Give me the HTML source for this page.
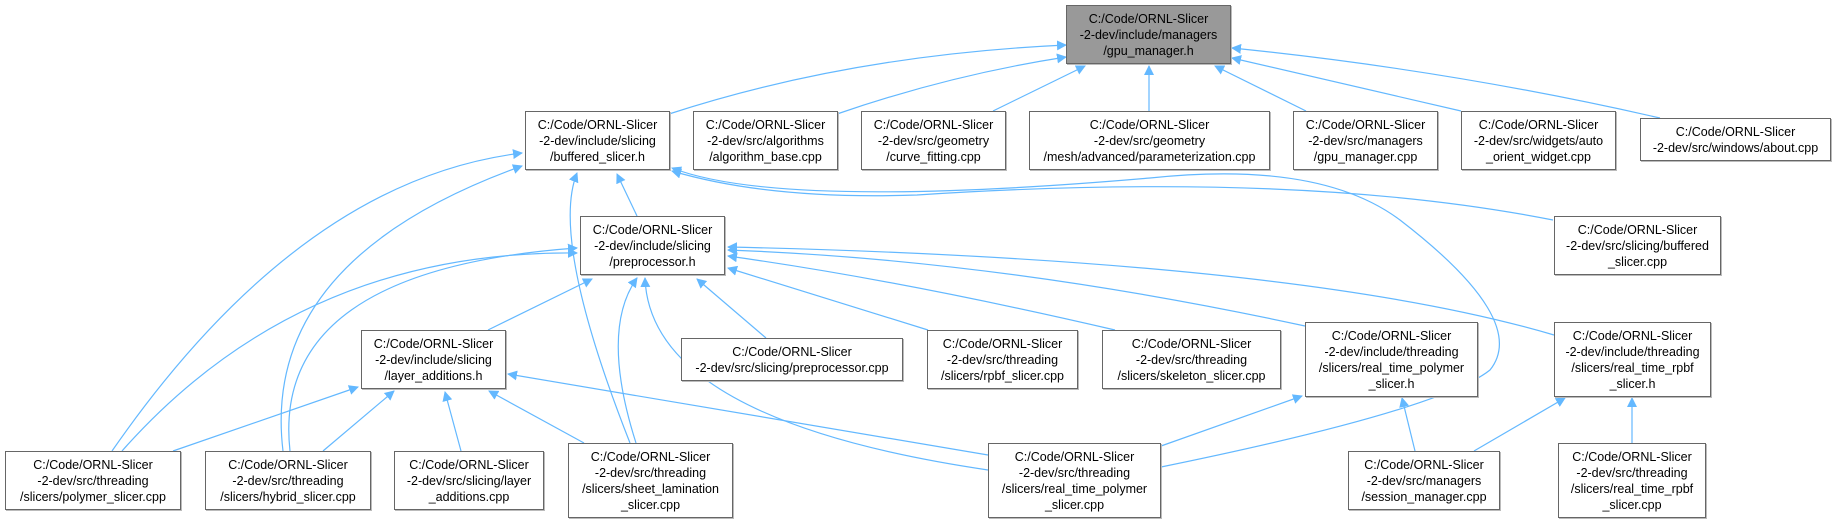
<!DOCTYPE html>
<html><head><meta charset="utf-8"><style>
body{margin:0;background:#fff;width:1837px;height:528px;overflow:hidden;position:relative;font-family:"Liberation Sans",sans-serif}
.n{position:absolute;box-sizing:border-box;border:1px solid #666;background:#fff;font-size:12.5px;line-height:16px;text-align:center;color:#000;display:flex;flex-direction:column;justify-content:center;box-shadow:1px 1px 0 #bbb}
svg{position:absolute;left:0;top:0}
</style></head><body>
<svg width="1837" height="528" viewBox="0 0 1837 528">
<defs><marker id="a" viewBox="0 0 10 10" refX="9" refY="5" markerWidth="10" markerHeight="10" markerUnits="userSpaceOnUse" orient="auto"><path d="M0,0 L10,5 L0,10 z" fill="#63b8ff"/></marker></defs>
<g fill="none" stroke="#63b8ff" stroke-width="1.2" marker-end="url(#a)">
<path d="M669,114 Q850,55 1066,45"/>
<path d="M837,114 Q950,75 1066,57"/>
<path d="M993,111 L1085,66"/>
<path d="M1149,111 L1149,66"/>
<path d="M1306,111 L1215,66"/>
<path d="M1461,111 L1232,58"/>
<path d="M1660,118 Q1450,70 1232,48"/>
<path d="M112,451 Q300,180 522,153"/>
<path d="M283,451 Q260,260 522,166"/>
<path d="M630,443 Q550,240 577,173"/>
<path d="M637,216 L617,174"/>
<path d="M1553,220 Q1300,170 917,195 Q770,200 672,171"/>
<path d="M1161,467 Q1440,410 1490,370 Q1530,320 1400,220 Q1320,160 1150,178 Q780,210 672,168"/>
<path d="M488,330 L592,279"/>
<path d="M122,451 Q300,250 577,253"/>
<path d="M290,451 Q270,270 577,248"/>
<path d="M636,443 Q600,330 637,278"/>
<path d="M988,470 Q650,420 645,278"/>
<path d="M766,338 L697,279"/>
<path d="M928,330 L728,268"/>
<path d="M1115,330 Q900,280 728,256"/>
<path d="M1305,326 Q1000,260 728,250"/>
<path d="M1554,335 Q1300,260 728,247"/>
<path d="M173,451 L358,387"/>
<path d="M323,451 L394,391"/>
<path d="M461,451 L445,392"/>
<path d="M584,443 L489,391"/>
<path d="M988,455 L508,374"/>
<path d="M1161,446 L1302,396"/>
<path d="M1415,451 L1402,398"/>
<path d="M1474,451 L1565,398"/>
<path d="M1632,443 L1632,398"/>
</g></svg>
<div class="n" style="left:1066px;top:5px;width:165px;height:59px;background:#999">C:/Code/ORNL-Slicer<br>-2-dev/include/managers<br>/gpu_manager.h</div>
<div class="n" style="left:525px;top:111px;width:145px;height:59px">C:/Code/ORNL-Slicer<br>-2-dev/include/slicing<br>/buffered_slicer.h</div>
<div class="n" style="left:693px;top:111px;width:145px;height:59px">C:/Code/ORNL-Slicer<br>-2-dev/src/algorithms<br>/algorithm_base.cpp</div>
<div class="n" style="left:861px;top:111px;width:145px;height:59px">C:/Code/ORNL-Slicer<br>-2-dev/src/geometry<br>/curve_fitting.cpp</div>
<div class="n" style="left:1029px;top:111px;width:241px;height:59px">C:/Code/ORNL-Slicer<br>-2-dev/src/geometry<br>/mesh/advanced/parameterization.cpp</div>
<div class="n" style="left:1293px;top:111px;width:145px;height:59px">C:/Code/ORNL-Slicer<br>-2-dev/src/managers<br>/gpu_manager.cpp</div>
<div class="n" style="left:1461px;top:111px;width:155px;height:59px">C:/Code/ORNL-Slicer<br>-2-dev/src/widgets/auto<br>_orient_widget.cpp</div>
<div class="n" style="left:1640px;top:118px;width:191px;height:43px">C:/Code/ORNL-Slicer<br>-2-dev/src/windows/about.cpp</div>
<div class="n" style="left:580px;top:216px;width:145px;height:59px">C:/Code/ORNL-Slicer<br>-2-dev/include/slicing<br>/preprocessor.h</div>
<div class="n" style="left:1554px;top:216px;width:167px;height:59px">C:/Code/ORNL-Slicer<br>-2-dev/src/slicing/buffered<br>_slicer.cpp</div>
<div class="n" style="left:361px;top:330px;width:145px;height:59px">C:/Code/ORNL-Slicer<br>-2-dev/include/slicing<br>/layer_additions.h</div>
<div class="n" style="left:681px;top:338px;width:222px;height:43px">C:/Code/ORNL-Slicer<br>-2-dev/src/slicing/preprocessor.cpp</div>
<div class="n" style="left:927px;top:330px;width:151px;height:59px">C:/Code/ORNL-Slicer<br>-2-dev/src/threading<br>/slicers/rpbf_slicer.cpp</div>
<div class="n" style="left:1102px;top:330px;width:179px;height:59px">C:/Code/ORNL-Slicer<br>-2-dev/src/threading<br>/slicers/skeleton_slicer.cpp</div>
<div class="n" style="left:1305px;top:322px;width:173px;height:75px">C:/Code/ORNL-Slicer<br>-2-dev/include/threading<br>/slicers/real_time_polymer<br>_slicer.h</div>
<div class="n" style="left:1554px;top:322px;width:157px;height:75px">C:/Code/ORNL-Slicer<br>-2-dev/include/threading<br>/slicers/real_time_rpbf<br>_slicer.h</div>
<div class="n" style="left:5px;top:451px;width:176px;height:59px">C:/Code/ORNL-Slicer<br>-2-dev/src/threading<br>/slicers/polymer_slicer.cpp</div>
<div class="n" style="left:205px;top:451px;width:166px;height:59px">C:/Code/ORNL-Slicer<br>-2-dev/src/threading<br>/slicers/hybrid_slicer.cpp</div>
<div class="n" style="left:394px;top:451px;width:150px;height:59px">C:/Code/ORNL-Slicer<br>-2-dev/src/slicing/layer<br>_additions.cpp</div>
<div class="n" style="left:568px;top:443px;width:165px;height:75px">C:/Code/ORNL-Slicer<br>-2-dev/src/threading<br>/slicers/sheet_lamination<br>_slicer.cpp</div>
<div class="n" style="left:988px;top:443px;width:173px;height:75px">C:/Code/ORNL-Slicer<br>-2-dev/src/threading<br>/slicers/real_time_polymer<br>_slicer.cpp</div>
<div class="n" style="left:1348px;top:451px;width:152px;height:59px">C:/Code/ORNL-Slicer<br>-2-dev/src/managers<br>/session_manager.cpp</div>
<div class="n" style="left:1558px;top:443px;width:148px;height:75px">C:/Code/ORNL-Slicer<br>-2-dev/src/threading<br>/slicers/real_time_rpbf<br>_slicer.cpp</div>
</body></html>
